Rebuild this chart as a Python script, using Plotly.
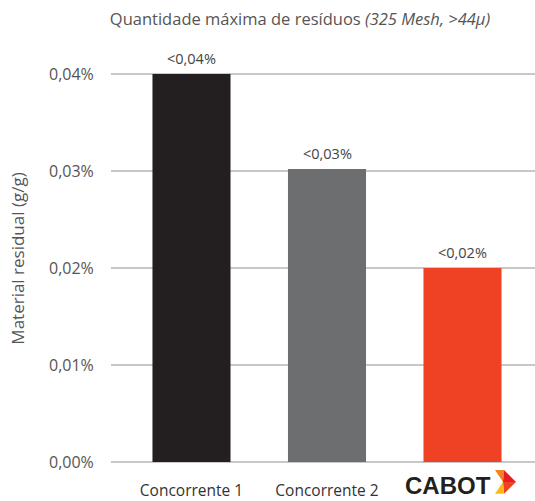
import plotly.graph_objects as go

categories = ["Concorrente 1", "Concorrente 2", "CABOT"]
values = [0.0400, 0.0302, 0.0200]
bar_labels = ["&lt;0,04%", "&lt;0,03%", "&lt;0,02%"]
bar_colors = ["#231f20", "#6d6e70", "#ef4123"]
tick_vals = [0, 0.01, 0.02, 0.03, 0.04]
tick_text = ["0,00%", "0,01%", "0,02%", "0,03%", "0,04%"]
x_tick_text = ["Concorrente 1", "Concorrente 2", " "]

W, H = 535, 501
ML, MR, MT, MB = 111, 0, 55, 37
PW, PH = W - ML - MR, H - MT - MB

FONT = "'Open Sans', Roboto, sans-serif"
TXT = "#555555"

fig = go.Figure()
fig.add_trace(go.Bar(
    x=categories, y=values,
    marker=dict(color=bar_colors, line=dict(width=0)),
    width=0.576, hoverinfo="skip",
))

def px2paper(px, py):
    return (px - ML) / PW, (H - MB - py) / PH

def path(pts):
    s = ""
    for i, (a, b) in enumerate(pts):
        xp, yp = px2paper(a, b)
        s += ("M" if i == 0 else "L") + f"{xp:.5f},{yp:.5f} "
    return s + "Z"

chevron = [
    ([(495, 472), (504, 472), (503, 484)], "#f58220"),
    ([(504, 472), (516, 484), (503, 484)], "#e31e24"),
    ([(503, 484), (516, 484), (504, 496)], "#ef4123"),
    ([(503, 484), (504, 496), (495, 496)], "#fdb913"),
]
shapes = [dict(type="path", xref="paper", yref="paper", path=path(p),
               fillcolor=c, line=dict(width=0), layer="above") for p, c in chevron]

annotations = [dict(
    text=t, x=c, y=v, xref="x", yref="y", xanchor="center", yanchor="bottom",
    yshift=4, showarrow=False, font=dict(family=FONT, size=14.5, color="#444444"),
) for c, v, t in zip(categories, values, bar_labels)]
annotations.append(dict(
    text="<b>CABOT</b>", x=2, y=0, xref="x", yref="y",
    xshift=-15, yshift=-23, xanchor="center", yanchor="middle",
    showarrow=False,
    font=dict(family="'Liberation Sans', Arial, sans-serif", size=24, color="#231f20"),
))

fig.update_layout(
    width=W, height=H,
    margin=dict(l=ML, r=MR, t=MT, b=MB),
    paper_bgcolor="white", plot_bgcolor="white",
    showlegend=False,
    font=dict(family=FONT, color=TXT),
    title=dict(
        text="Quantidade máxima de resíduos <i>(325 Mesh, &gt;44µ)</i>",
        x=300 / W, xanchor="center", xref="container",
        y=1 - 19 / H, yanchor="middle", yref="container",
        font=dict(family=FONT, size=16.5, color=TXT),
    ),
    xaxis=dict(
        type="category", range=[-0.594, 2.535],
        tickvals=categories, ticktext=x_tick_text,
        ticks="outside", ticklen=14, tickcolor="rgba(0,0,0,0)",
        tickfont=dict(family=FONT, size=15.5, color="#333333"),
        showgrid=False, showline=False, zeroline=False,
    ),
    yaxis=dict(
        range=[0, PH / 9750],
        tickvals=tick_vals, ticktext=tick_text,
        ticks="outside", ticklen=13, tickcolor="rgba(0,0,0,0)",
        tickfont=dict(family=FONT, size=16, color=TXT),
        showgrid=True, gridcolor="#c8c8c8", gridwidth=1.5,
        zeroline=True, zerolinecolor="#c8c8c8", zerolinewidth=1.5,
        showline=False,
        title=dict(text="Material residual (g/g)", standoff=20,
                   font=dict(family=FONT, size=17, color=TXT)),
    ),
    shapes=shapes,
    annotations=annotations,
)

fig.write_html("out.html", config={"displayModeBar": False},
               post_script="document.body.style.margin='0';document.body.style.overflow='hidden';")
